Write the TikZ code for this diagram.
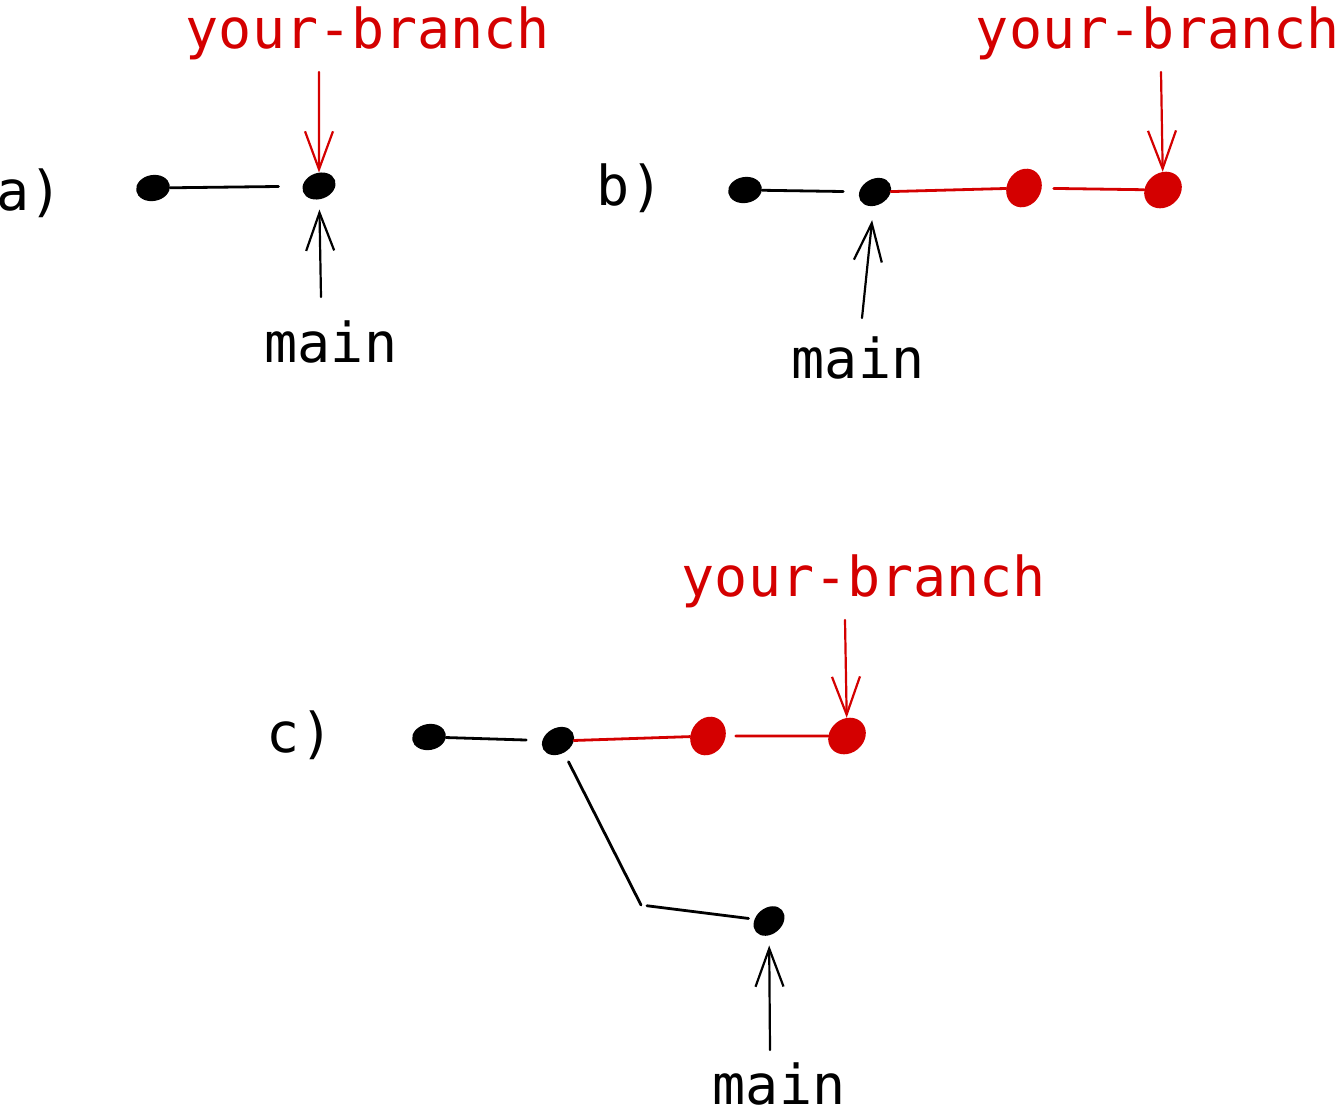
\documentclass[tikz,border=0pt]{standalone}
\usepackage{fontspec}
\newfontfamily\codefont{DejaVu Sans Mono}
\usetikzlibrary{arrows.meta,shapes.geometric}
\definecolor{branchred}{RGB}{212,0,0}
\tikzset{
  commit/.style={ellipse, fill=black, draw=none, minimum width=34pt, minimum height=26pt, inner sep=0pt},
  newcommit/.style={commit, fill=branchred, minimum width=40pt, minimum height=34pt},
  edge/.style={line width=2.8pt, line cap=round},
  redge/.style={edge, draw=branchred},
  pointer/.style={line width=2.2pt, line cap=round, -{Straight Barb[length=38pt,width=28pt,line width=2.2pt]}},
  redpointer/.style={pointer, draw=branchred},
  tag/.style={font=\codefont\fontsize{55}{66}\selectfont, anchor=base, inner sep=0pt},
  redtag/.style={tag, text=branchred},
}
\begin{document}
\begin{tikzpicture}[x=1pt, y=-1pt]
\useasboundingbox (0,0) rectangle (1338,1114);

% ---- a) both refs on the same commit
\node[tag] (la) at (30,210) {a)};
\node[commit, rotate=10] (a1) at (153,188) {};
\node[commit, rotate=20] (a2) at (319,186) {};
\draw[edge, shorten >=24pt] (a1) -- (a2);
\node[redtag] (ba) at (368,48) {your-branch};
\node[tag] (ma) at (331,362) {main};
\coordinate (bta) at (319,72);
\coordinate (mta) at (321,297);
\draw[redpointer] (bta) -- (a2);
\draw[pointer, shorten >=10pt] (mta) -- (a2);

% ---- b) two new commits on the branch
\node[tag] (lb) at (630,205) {b)};
\node[commit, rotate=10] (b1) at (745,190) {};
\node[commit, rotate=30] (b2) at (875,192) {};
\node[newcommit, rotate=60] (b3) at (1024,188) {};
\node[newcommit, rotate=40] (b4) at (1163,190) {};
\draw[edge, shorten >=16pt] (b1) -- (b2);
\draw[redge] (b2) -- (b3);
\draw[redge, shorten <=12pt] (b3) -- (b4);
\node[redtag] (bb) at (1158,48) {your-branch};
\node[tag] (mb) at (858,378) {main};
\coordinate (btb) at (1161,72);
\coordinate (mtb) at (862,318);
\draw[redpointer] (btb) -- (b4);
\draw[pointer, shorten >=14pt] (mtb) -- (b2);

% ---- c) main has moved on as well
\node[tag] (lc) at (300,752) {c)};
\node[commit, rotate=10] (c1) at (429,737) {};
\node[commit, rotate=30] (c2) at (558,741) {};
\node[newcommit, rotate=60] (c3) at (708,736) {};
\node[newcommit, rotate=40] (c4) at (847,736) {};
\node[commit, rotate=40] (c5) at (769,921) {};
\coordinate (kink) at (641,905);
\draw[edge, shorten >=16pt] (c1) -- (c2);
\draw[redge] (c2) -- (c3);
\draw[redge, shorten <=10pt] (c3) -- (c4);
\draw[edge, shorten <=10pt] (c2) -- (kink);
\draw[edge, shorten <=6pt, shorten >=6pt] (kink) -- (c5);
\node[redtag] (bc) at (864,596) {your-branch};
\node[tag] (mc) at (779,1104) {main};
\coordinate (btc) at (845,620);
\coordinate (mtc) at (770,1050);
\draw[redpointer] (btc) -- (c4);
\draw[pointer, shorten >=10pt] (mtc) -- (c5);
\end{tikzpicture}
\end{document}
